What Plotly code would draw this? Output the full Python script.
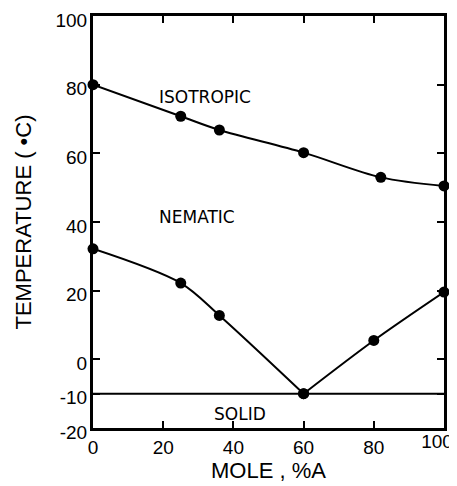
import plotly.graph_objects as go

# Data
iso_x = [0, 25, 36, 60, 82, 100]
iso_y = [80, 70.8, 66.8, 60.2, 53, 50.5]

nem_left_x = [0, 25, 36, 60]
nem_left_y = [32.2, 22.2, 12.8, -10]
nem_right_x = [60, 80, 100]
nem_right_y = [-10, 5.5, 19.6]

solid_x = [0, 100]
solid_y = [-10, -10]

y_ticks = [-20, -10, 0, 20, 40, 60, 80, 100]
x_ticks = [0, 20, 40, 60, 80, 100]
x_last_tick = [100]

region_labels = ["ISOTROPIC", "NEMATIC", "SOLID"]
region_x = [18.2, 18.2, 34.0]
region_y = [76.4, 41.5, -15.9]

fig = go.Figure()

line_style = dict(color="black", width=2, shape="spline", smoothing=0.9)
marker_style = dict(color="black", size=11, symbol="circle")

# solid line drawn on an overlay x axis (same range) that carries the "100" label
fig.add_trace(go.Scatter(x=solid_x, y=solid_y, mode="lines", xaxis="x2",
                         line=dict(color="black", width=2), hoverinfo="skip"))
fig.add_trace(go.Scatter(x=iso_x, y=iso_y, mode="lines+markers",
                         line=line_style, marker=marker_style, cliponaxis=False))
fig.add_trace(go.Scatter(x=nem_left_x, y=nem_left_y, mode="lines+markers",
                         line=line_style, marker=marker_style, cliponaxis=False))
fig.add_trace(go.Scatter(x=nem_right_x, y=nem_right_y, mode="lines+markers",
                         line=line_style, marker=marker_style, cliponaxis=False))

for t, x, y in zip(region_labels, region_x, region_y):
    fig.add_annotation(x=x, y=y, text=t, showarrow=False, xanchor="left",
                       yanchor="middle",
                       font=dict(family="DejaVu Sans", size=17, color="black"))

tick_font = dict(family="Liberation Sans", size=19, color="black")
title_font = dict(family="Liberation Sans", size=22, color="black")

axis_common = dict(
    showline=True, linecolor="black", linewidth=3, mirror="ticks",
    ticks="inside", ticklen=7, tickwidth=2, tickcolor="black",
    showgrid=False, zeroline=False, automargin=False,
    ticklabeloverflow="allow",
    tickfont=tick_font,
)

x_ticktext = [str(v) if v not in x_last_tick else "" for v in x_ticks]

# page body has an 8px margin, so the figure is sized to fit the 457x486 window
fig.update_layout(
    xaxis=dict(range=[0, 100], tickvals=x_ticks, ticktext=x_ticktext,
               title=dict(text="MOLE , %A", standoff=5, font=title_font),
               **axis_common),
    xaxis2=dict(range=[0, 100], overlaying="x", side="bottom",
                tickvals=x_last_tick, ticktext=[str(v) for v in x_last_tick],
                ticks="", showline=False, showgrid=False, zeroline=False,
                automargin=False, ticklabelshift=-7, ticklabeloverflow="allow",
                tickfont=tick_font),
    yaxis=dict(range=[-20, 100], tickvals=y_ticks,
               ticktext=[str(v) for v in y_ticks],
               ticklabelstandoff=-1, ticklabelshift=4,
               title=dict(text="TEMPERATURE ( •C)", standoff=18, font=title_font),
               **axis_common),
    width=449, height=478,
    margin=dict(l=85, r=13, t=8, b=58, autoexpand=False),
    paper_bgcolor="white", plot_bgcolor="white",
    showlegend=False,
)

fig.write_html("out.html")
